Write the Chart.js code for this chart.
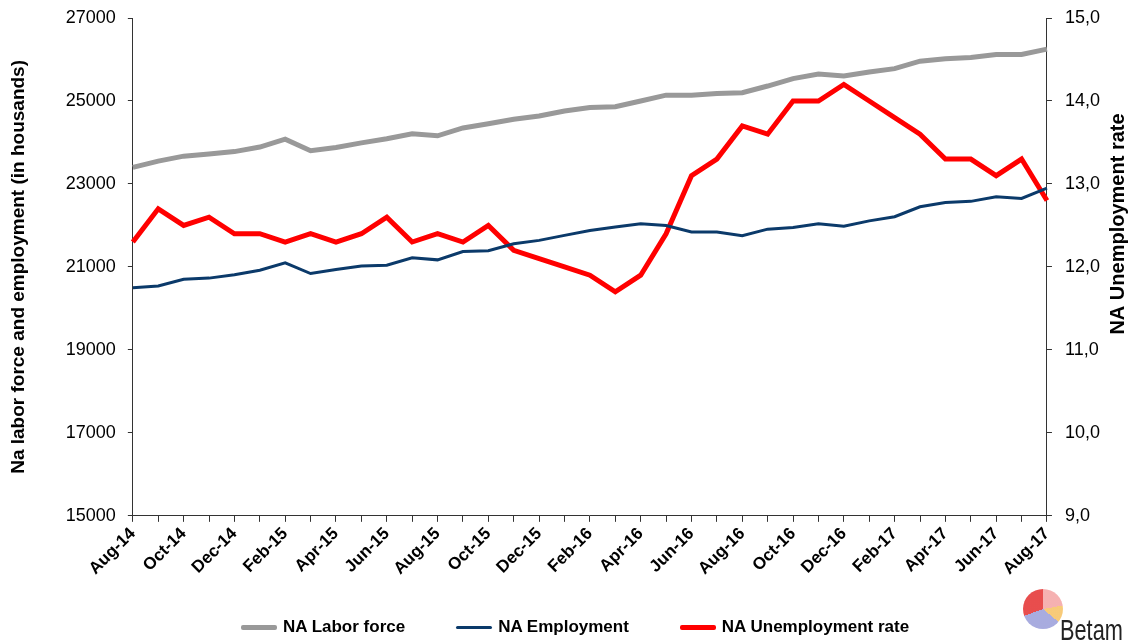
<!DOCTYPE html>
<html>
<head>
<meta charset="utf-8">
<script src="https://cdn.jsdelivr.net/npm/chart.js@4.4.0/dist/chart.umd.min.js"></script>
<style>
  html, body { margin: 0; padding: 0; background: #fff; overflow: hidden; }
  #wrap { position: relative; width: 1128px; height: 641px; overflow: hidden; }
  #chart { position: absolute; left: 0; top: -4px; }
  #legendList { position: absolute; left: 241px; top: 616px; margin: 0; padding: 0; list-style: none; display: flex; gap: 51px;
    font-family: "Liberation Sans", Arial, sans-serif; font-size: 17px; font-weight: bold; color: #000; line-height: 22px; }
  #legendList li { display: flex; align-items: center; }
  #logoPie { position: absolute; left: 1023px; top: 589px; width: 40px; height: 40px; border-radius: 50%;
    background: conic-gradient(#f5a9a9 0deg 80deg, #f7c56b 80deg 130deg, #9fa3dc 130deg 250deg, #e63a3a 250deg 360deg); opacity: 0.9; }
  #logoText { position: absolute; left: 1060px; top: 616px; font-family: "Liberation Sans", Arial, sans-serif; font-size: 29px; color: #222;
    line-height: 29px; transform: scaleX(0.75); transform-origin: left top; }
</style>
</head>
<body>
<div id="wrap">
  <canvas id="chart" width="1128" height="645"></canvas>
  <ul id="legendList"></ul>
  <div id="logoPie"></div>
  <div id="logoText">Betam</div>
</div>
<script>
// months Aug-14 .. Aug-17
const months = ['Aug-14','Sep-14','Oct-14','Nov-14','Dec-14','Jan-15','Feb-15','Mar-15','Apr-15','May-15','Jun-15','Jul-15',
  'Aug-15','Sep-15','Oct-15','Nov-15','Dec-15','Jan-16','Feb-16','Mar-16','Apr-16','May-16','Jun-16','Jul-16',
  'Aug-16','Sep-16','Oct-16','Nov-16','Dec-16','Jan-17','Feb-17','Mar-17','Apr-17','May-17','Jun-17','Jul-17','Aug-17'];

const laborForce = [23400, 23550, 23670, 23720, 23780, 23890, 24080, 23800, 23880, 23990, 24090, 24210,
  24160, 24350, 24450, 24560, 24640, 24760, 24840, 24860, 25000, 25140, 25140, 25180,
  25200, 25360, 25540, 25650, 25600, 25700, 25780, 25960, 26020, 26050, 26120, 26120, 26250];

const employment = [20500, 20540, 20700, 20730, 20810, 20920, 21100, 20840, 20940, 21020, 21040, 21220,
  21170, 21370, 21390, 21560, 21640, 21760, 21880, 21960, 22040, 22000, 21840, 21840,
  21750, 21910, 21950, 22040, 21980, 22110, 22210, 22450, 22550, 22580, 22690, 22650, 22900];

const unemploymentRate = [12.3, 12.7, 12.5, 12.6, 12.4, 12.4, 12.3, 12.4, 12.3, 12.4, 12.6, 12.3,
  12.4, 12.3, 12.5, 12.2, 12.1, 12.0, 11.9, 11.7, 11.9, 12.4, 13.1, 13.3,
  13.7, 13.6, 14.0, 14.0, 14.2, 14.0, 13.8, 13.6, 13.3, 13.3, 13.1, 13.3, 12.8];

const seriesLabels = ['NA Labor force', 'NA Employment', 'NA Unemployment rate'];
const seriesColors = ['#999999', '#0b3a6a', '#ff0000'];
const seriesWidths = [5, 3, 5];

const fontFamily = '"Liberation Sans", Arial, sans-serif';

// right axis title reads bottom-to-top, so draw it ourselves
const rightTitle = {
  id: 'rightTitle',
  afterDraw(chart) {
    const c = chart.ctx;
    c.save();
    c.translate(1118, 228); // canvas is shifted up 4px
    c.rotate(-Math.PI / 2);
    c.font = 'bold 20px ' + fontFamily;
    c.fillStyle = '#000';
    c.textAlign = 'center';
    c.textBaseline = 'middle';
    c.fillText('NA Unemployment rate', 0, 0);
    c.restore();
  }
};

const ctx = document.getElementById('chart').getContext('2d');
new Chart(ctx, {
  type: 'line',
  data: {
    labels: months,
    datasets: [
      { label: seriesLabels[0], data: laborForce, yAxisID: 'y', borderColor: seriesColors[0], borderWidth: seriesWidths[0] },
      { label: seriesLabels[1], data: employment, yAxisID: 'y', borderColor: seriesColors[1], borderWidth: seriesWidths[1] },
      { label: seriesLabels[2], data: unemploymentRate, yAxisID: 'y1', borderColor: seriesColors[2], borderWidth: seriesWidths[2] }
    ]
  },
  options: {
    responsive: false,
    animation: false,
    elements: { point: { radius: 0 }, line: { tension: 0 } },
    layout: { padding: { left: 2, right: 15, top: 0, bottom: 60 } },
    plugins: {
      tooltip: { enabled: false },
      legend: { display: false }
    },
    scales: {
      x: {
        grid: { display: true, drawOnChartArea: false, drawTicks: true, tickLength: 6, color: '#333' },
        border: { color: '#333', width: 1 },
        ticks: {
          autoSkip: false,
          maxRotation: 45,
          minRotation: 45,
          padding: 2,
          color: '#000',
          font: { family: fontFamily, size: 17, weight: 'bold' },
          callback: function (value, index) { return index % 2 === 0 ? months[index] : ''; }
        }
      },
      y: {
        position: 'left',
        min: 15000,
        max: 27000,
        grid: { display: true, drawOnChartArea: false, tickLength: 5, color: '#333' },
        border: { color: '#333', width: 1 },
        ticks: {
          stepSize: 2000,
          color: '#000',
          padding: 12,
          font: { family: fontFamily, size: 18, lineHeight: 1 },
          callback: function (value) { return String(value); }
        },
        title: {
          display: true,
          text: 'Na labor force and employment (in housands)',
          color: '#000',
          padding: { top: 5, bottom: 24 },
          font: { family: fontFamily, size: 19, weight: 'bold' }
        }
      },
      y1: {
        position: 'right',
        min: 9,
        max: 15,
        grid: { display: true, drawOnChartArea: false, tickLength: 5, color: '#333' },
        border: { color: '#333', width: 1 },
        ticks: {
          stepSize: 1,
          color: '#000',
          padding: 13,
          font: { family: fontFamily, size: 18, lineHeight: 1 },
          callback: function (value) { return value.toFixed(1).replace('.', ','); }
        }
      }
    }
  },
  plugins: [rightTitle]
});

// Buat legenda manual
const legendList = document.getElementById('legendList');
seriesLabels.forEach((label, index) => {
  const legendItem = document.createElement('li');
  legendItem.innerHTML = `<span style="background-color: ${seriesColors[index]}; width: 36px; height: ${seriesWidths[index]}px; border-radius: 2px; display: inline-block; margin-right: 6px;"></span>${label}`;
  legendList.appendChild(legendItem);
});
</script>
</body>
</html>
